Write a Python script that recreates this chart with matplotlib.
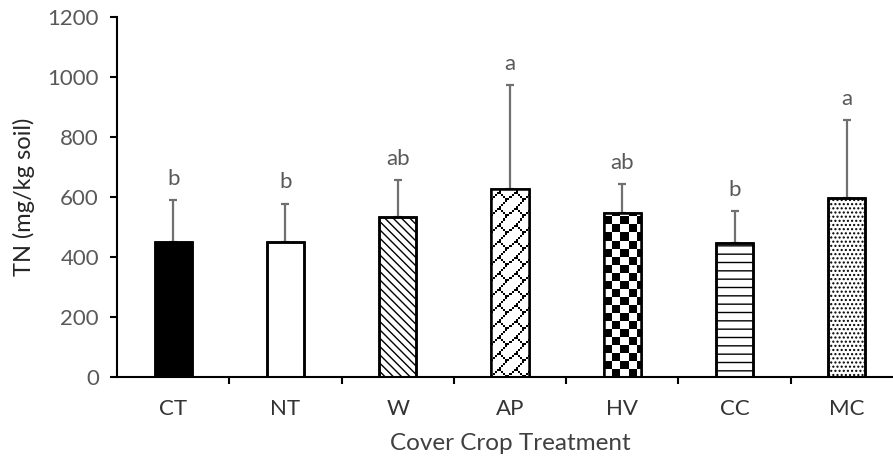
import matplotlib
matplotlib.use("Agg")
import matplotlib.pyplot as plt
import numpy as np

categories = ["CT", "NT", "W", "AP", "HV", "CC", "MC"]
means = [451, 450, 533, 628, 548, 445, 598]
sd = [139, 128, 123, 344, 94, 108, 257]
letters = ["b", "b", "ab", "a", "ab", "b", "a"]
yticks = [0, 200, 400, 600, 800, 1000, 1200]

plt.rcParams['font.family'] = ['Lato', 'DejaVu Sans']
plt.rcParams['hatch.linewidth'] = 1.0
plt.rcParams['hatch.color'] = 'black'

W, H = 893, 463
fig = plt.figure(figsize=(W / 100, H / 100), dpi=100)
left, right, bottom, top = 117, 903, 377, 17
ax = fig.add_axes([left / W, 1 - bottom / H, (right - left) / W, (bottom - top) / H])

x = np.arange(len(categories))
bw = 0.33
faces = ['black', 'white', 'white', 'white', 'white', 'white', 'white']
hatches = [None, None, '\\\\\\\\', None, None, '--', '....']
bars = ax.bar(x, means, width=bw, color=faces, edgecolor='black', linewidth=1.8, zorder=2)
for b, h in zip(bars, hatches):
    if h:
        b.set_hatch(h)

ax.set_xlim(-0.5, len(categories) - 0.5)
ax.set_ylim(0, 1200)
fig.canvas.draw()

# 8x8 texture tiles (1 = white, 0 = black), row 0 = top
brick = np.array([
    [1, 1, 1, 1, 1, 1, 1, 0],
    [1, 1, 1, 1, 1, 1, 0, 1],
    [1, 1, 1, 1, 1, 0, 1, 1],
    [1, 1, 1, 1, 0, 1, 1, 1],
    [1, 1, 1, 0, 0, 1, 1, 1],
    [1, 1, 0, 1, 1, 0, 1, 1],
    [1, 0, 1, 1, 1, 1, 0, 1],
    [0, 1, 1, 1, 1, 1, 1, 0],
], dtype=float)
checker = np.array([
    [0, 0, 0, 0, 1, 1, 1, 1],
    [0, 0, 0, 0, 1, 1, 1, 1],
    [0, 0, 0, 0, 1, 1, 1, 1],
    [0, 0, 0, 0, 1, 1, 1, 1],
    [1, 1, 1, 1, 0, 0, 0, 0],
    [1, 1, 1, 1, 0, 0, 0, 0],
    [1, 1, 1, 1, 0, 0, 0, 0],
    [1, 1, 1, 1, 0, 0, 0, 0],
], dtype=float)


def texture(bar, tile, scale):
    t = np.kron(tile, np.ones((scale, scale)))
    p0 = ax.transData.transform((bar.get_x(), 0))
    p1 = ax.transData.transform((bar.get_x() + bar.get_width(), bar.get_height()))
    wpx = abs(p1[0] - p0[0])
    hpx = abs(p1[1] - p0[1])
    nx = int(np.ceil(wpx / t.shape[1])) + 1
    ny = int(np.ceil(hpx / t.shape[0])) + 1
    img = np.tile(t, (ny, nx))
    x0 = bar.get_x()
    xw = img.shape[1] * bar.get_width() / wpx
    yh = img.shape[0] * bar.get_height() / hpx
    im = ax.imshow(img, cmap='gray', vmin=0, vmax=1, extent=(x0, x0 + xw, 0, yh),
                   origin='upper', interpolation='nearest', aspect='auto', zorder=2.1)
    im.set_clip_path(bar)


texture(bars[3], brick, 2)
texture(bars[4], checker, 2)
ax.set_xlim(-0.5, len(categories) - 0.5)
ax.set_ylim(0, 1200)

# edges on top
ax.bar(x, means, width=bw, fill=False, edgecolor='black', linewidth=1.8, zorder=2.2)

ax.errorbar(x, means, yerr=[np.zeros(len(sd)), sd], fmt='none', ecolor='#707070',
            elinewidth=1.6, capsize=3, capthick=1.6, zorder=1.5)

for xi, m, s, l in zip(x, means, sd, letters):
    ax.annotate(l, (xi, m + s), xytext=(0, 8), textcoords='offset points',
                ha='center', va='bottom', fontsize=16, color='#595959')

for sp in ['top', 'right']:
    ax.spines[sp].set_visible(False)
ax.spines['left'].set_linewidth(1.5)
ax.spines['bottom'].set_linewidth(1.5)

ax.set_yticks(yticks)
ax.set_yticklabels([str(v) for v in yticks])
ax.tick_params(axis='y', direction='out', length=5, width=1.5, pad=8,
               labelsize=16, labelcolor='#595959')
ax.set_xticks(x)
ax.set_xticklabels(categories)
ax.tick_params(axis='x', which='major', length=0, pad=16, labelsize=16, labelcolor='#333333')
ax.set_xticks(np.arange(len(categories)) + 0.5, minor=True)
ax.tick_params(axis='x', which='minor', direction='out', length=5, width=1.5)

ax.set_ylabel("TN (mg/kg soil)", fontsize=17, color='#262626', labelpad=9)
ax.set_xlabel("Cover Crop Treatment", fontsize=17.5, color='#404040', labelpad=10)

fig.savefig("out.png", dpi=100)
